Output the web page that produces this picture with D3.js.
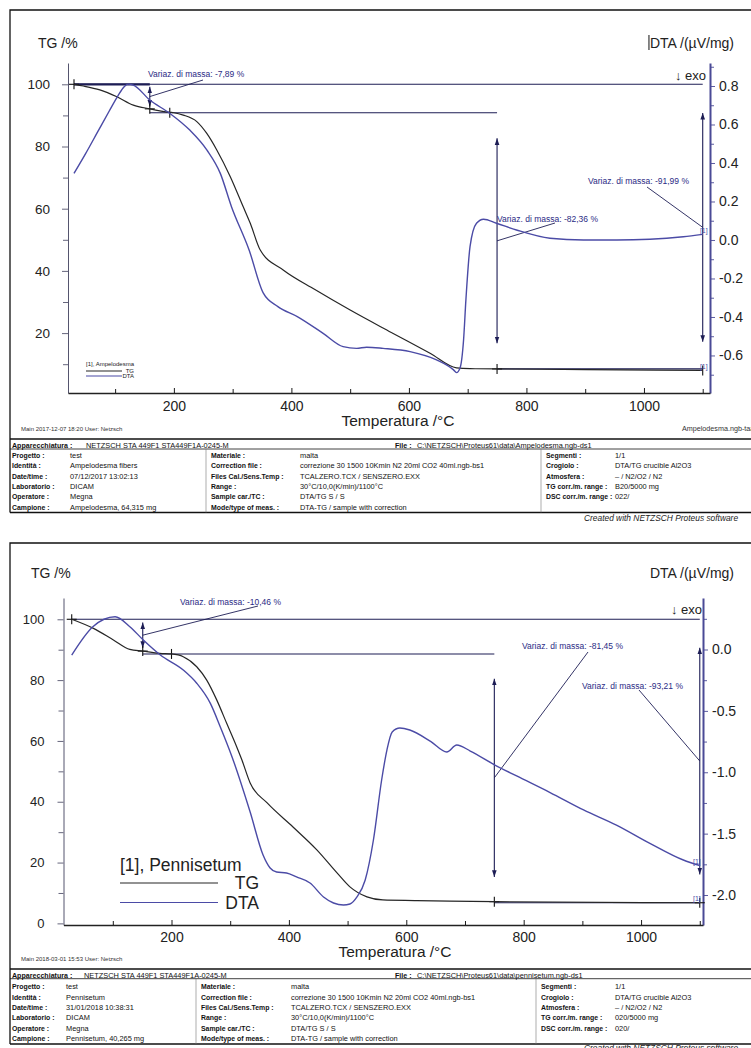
<!DOCTYPE html>
<html>
<head>
<meta charset="utf-8">
<script src="https://cdn.jsdelivr.net/npm/d3@7"></script>
<style>
  body { margin: 0; background: #fff; }
  svg { display: block; }
  text { font-family: "Liberation Sans", Arial, sans-serif; }
</style>
</head>
<body>
<svg id="chart" width="751" height="1048"></svg>
<script>
// ---------- Ampelodesma fibers (upper report) ----------
const ampTgTemp = [30, 46, 74, 103, 131, 159, 193, 200, 216, 239, 256, 273, 296, 318, 330, 347, 386, 440, 500, 570, 636, 681, 704, 750, 900, 1100];
const ampTg     = [100, 99.45, 98.2, 96.0, 93.3, 92.11, 91.0, 90.85, 90.1, 88.0, 84.2, 78.9, 70.3, 60.6, 55.3, 46.7, 40.3, 34.0, 27.4, 20.2, 13.5, 8.8, 8.55, 8.49, 8.25, 8.01];
const ampDtaTemp = [30, 50, 70, 90, 105, 115, 122, 131, 159, 193, 227, 256, 279, 298, 328, 352, 377, 410, 454, 488, 511, 528, 556, 602, 647, 676, 681, 687, 693, 697, 704, 715, 727, 749, 783, 840, 897, 954, 1010, 1067, 1100];
const ampDta     = [0.346, 0.45, 0.56, 0.67, 0.75, 0.795, 0.81, 0.805, 0.727, 0.658, 0.571, 0.468, 0.346, 0.173, -0.052, -0.275, -0.346, -0.398, -0.485, -0.554, -0.563, -0.557, -0.563, -0.580, -0.623, -0.675, -0.689, -0.665, -0.52, -0.31, -0.035, 0.087, 0.108, 0.087, 0.052, 0.009, 0.0, 0.0, 0.004, 0.017, 0.029];
// mass-change steps: temperature of the arrow, level before, level after
const ampStepTemp = [159, 750, 1100];
const ampStepFrom = [100, 90.85, 100];
const ampStepTo   = [92.11, 8.49, 8.01];
const ampStepText = ["Variaz. di massa: -7,89 %", "Variaz. di massa: -82,36 %", "Variaz. di massa: -91,99 %"];
// horizontal reference levels: [start T, end T, TG level]
const ampLevels = [[30, 1100, 100], [30, 159, 100], [159, 750, 90.85], [750, 1100, 8.49]];
// evaluation points: [T, TG level, kind]
const ampMarks = [[30, 100, "+"], [159, 92.11, "+"], [193, 90.85, "|"], [750, 8.49, "+"], [1100, 8.01, "|"]];
const ampInfo = [
  ["Progetto :", "test", "Materiale :", "malta", "Segmenti :", "1/1"],
  ["Identità :", "Ampelodesma fibers", "Correction file :", "correzione 30 1500 10Kmin N2 20ml CO2 40ml.ngb-bs1", "Crogiolo :", "DTA/TG crucible Al2O3"],
  ["Date/time :", "07/12/2017 13:02:13", "Files Cal./Sens.Temp :", "TCALZERO.TCX / SENSZERO.EXX", "Atmosfera :", "– / N2/O2 / N2"],
  ["Laboratorio :", "DICAM", "Range :", "30°C/10,0(K/min)/1100°C", "TG corr./m. range :", "B20/5000 mg"],
  ["Operatore :", "Megna", "Sample car./TC :", "DTA/TG S / S", "DSC corr./m. range :", "022/"],
  ["Campione :", "Ampelodesma, 64,315 mg", "Mode/type of meas. :", "DTA-TG / sample with correction", "", ""]
];

// ---------- Pennisetum (lower report) ----------
const penTgTemp = [30, 67, 101, 129, 151, 180, 200, 220, 243, 260, 277, 294, 311, 320, 334, 363, 407, 448, 482, 504, 533, 560, 618, 674, 750, 1100];
const penTg     = [100, 97.0, 93.2, 90.1, 89.54, 88.8, 88.6, 87.7, 84.4, 80.0, 73.5, 65.8, 58.1, 53.7, 46.2, 39.6, 31.7, 24.1, 16.6, 12.0, 8.7, 7.7, 7.5, 7.3, 7.15, 6.79];
const penDtaTemp = [30, 66, 104, 129, 152, 181, 220, 243, 266, 283, 303, 334, 356, 368, 379, 396, 413, 436, 459, 476, 493, 504, 516, 530, 544, 558, 567, 576, 589, 606, 642, 669, 686, 709, 751, 788, 845, 902, 958, 1015, 1072, 1100];
const penDta     = [-0.045, 0.186, 0.267, 0.186, 0.077, -0.045, -0.167, -0.275, -0.437, -0.629, -0.873, -1.324, -1.674, -1.78, -1.813, -1.821, -1.853, -1.902, -2.016, -2.065, -2.081, -2.073, -2.016, -1.878, -1.552, -1.063, -0.819, -0.672, -0.64, -0.656, -0.751, -0.835, -0.778, -0.827, -0.941, -1.03, -1.165, -1.307, -1.43, -1.579, -1.715, -1.76];
const penStepTemp = [151, 750, 1100];
const penStepFrom = [100, 88.6, 100];
const penStepTo   = [89.54, 7.15, 6.79];
const penStepText = ["Variaz. di massa: -10,46 %", "Variaz. di massa: -81,45 %", "Variaz. di massa: -93,21 %"];
const penLevels = [[30, 1100, 100], [151, 750, 88.6], [750, 1100, 6.79]];
const penMarks = [[30, 100, "+"], [151, 89.54, "+"], [200, 88.6, "|"], [750, 7.15, "+"], [1100, 6.79, "+"]];
const penInfo = [
  ["Progetto :", "test", "Materiale :", "malta", "Segmenti :", "1/1"],
  ["Identità :", "Pennisetum", "Correction file :", "correzione 30 1500 10Kmin N2 20ml CO2 40ml.ngb-bs1", "Crogiolo :", "DTA/TG crucible Al2O3"],
  ["Date/time :", "31/01/2018 10:38:31", "Files Cal./Sens.Temp :", "TCALZERO.TCX / SENSZERO.EXX", "Atmosfera :", "– / N2/O2 / N2"],
  ["Laboratorio :", "DICAM", "Range :", "30°C/10,0(K/min)/1100°C", "TG corr./m. range :", "020/5000 mg"],
  ["Operatore :", "Megna", "Sample car./TC :", "DTA/TG S / S", "DSC corr./m. range :", "020/"],
  ["Campione :", "Pennisetum, 40,265 mg", "Mode/type of meas. :", "DTA-TG / sample with correction", "", ""]
];

// ---------- shared tick values ----------
const tempMajor = [200, 400, 600, 800, 1000];
const tempMinor = [100, 300, 500, 700, 900, 1100];
const ampTgMajor = [20, 40, 60, 80, 100];
const penTgMajor = [0, 20, 40, 60, 80, 100];
const tgMinor = [10, 30, 50, 70, 90];
const ampDtaMajor = [-0.6, -0.4, -0.2, 0.0, 0.2, 0.4, 0.6, 0.8];
const ampDtaMinor = [-0.7, -0.5, -0.3, -0.1, 0.1, 0.3, 0.5, 0.7, 0.9];
const penDtaMajor = [-2.0, -1.5, -1.0, -0.5, 0.0];
const penDtaMinor = [-1.75, -1.25, -0.75, -0.25, 0.25];

const TG_COLOR = "#262626";
const DTA_COLOR = "#4b4ba6";
const NOTE_COLOR = "#1d1d55";
const NOTE_TEXT = "#2b2b85";

const svg = d3.select("#chart");
const defs = svg.append("defs");
defs.append("marker")
  .attr("id", "head").attr("viewBox", "0 0 10 10")
  .attr("refX", 10).attr("refY", 5)
  .attr("markerWidth", 6).attr("markerHeight", 7)
  .attr("orient", "auto-start-reverse")
  .append("path").attr("d", "M0,1.5L10,5L0,8.5z").attr("fill", NOTE_COLOR);

function drawPanel(p) {
  const g = svg.append("g");
  const x = d3.scaleLinear().domain(p.tempDomain).range([p.left, p.right]);
  const yTg = d3.scaleLinear().domain(p.tgDomain).range([p.bottom, p.top]);
  const yDta = d3.scaleLinear().domain(p.dtaDomain).range([p.bottom, p.top]);

  // report frame and information table
  const fr = g.append("g").attr("fill", "none").attr("stroke", "#111");
  fr.append("path").attr("d", `M${p.frameLeft},${p.tableBottom}V${p.frameTop}H760`).attr("stroke-width", 1.3);
  fr.append("line").attr("x1", p.frameLeft).attr("x2", 760).attr("y1", p.tableTop).attr("y2", p.tableTop).attr("stroke-width", 1.6);
  fr.append("line").attr("x1", p.frameLeft).attr("x2", 760).attr("y1", p.tableHead).attr("y2", p.tableHead).attr("stroke-width", 0.8);
  fr.append("line").attr("x1", p.frameLeft).attr("x2", 760).attr("y1", p.tableBottom).attr("y2", p.tableBottom).attr("stroke-width", 1.6);
  p.colSep.forEach(cx => fr.append("line").attr("x1", cx).attr("x2", cx).attr("y1", p.tableHead).attr("y2", p.tableBottom).attr("stroke-width", 0.6).attr("stroke", "#777"));

  const head = g.append("g").attr("font-size", 7.4).attr("fill", "#111");
  head.append("text").attr("x", p.frameLeft + 2).attr("y", p.tableTop + 8.5).attr("font-weight", "bold").attr("font-size", 7.1).text("Apparecchiatura :");
  head.append("text").attr("x", p.headValX).attr("y", p.tableTop + 8.5).text("NETZSCH STA 449F1 STA449F1A-0245-M");
  head.append("text").attr("x", 395).attr("y", p.tableTop + 8.5).attr("font-weight", "bold").attr("font-size", 7.1).text("File :");
  head.append("text").attr("x", 417).attr("y", p.tableTop + 8.5).text(p.fileName);
  p.info.forEach((row, i) => {
    const yy = p.rowFirst + i * p.rowStep;
    [0, 1, 2, 3, 4, 5].forEach(c => {
      if (!row[c]) return;
      const t = head.append("text").attr("x", p.colX[c]).attr("y", yy).text(row[c]);
      if (c % 2 === 0) t.attr("font-weight", "bold").attr("font-size", 6.9);
    });
  });
  g.append("text").attr("x", 584).attr("y", p.createdY).attr("font-size", 8.4)
    .attr("font-style", "italic").attr("fill", "#222").text("Created with NETZSCH Proteus software");
  g.append("text").attr("x", 21).attr("y", p.mainY).attr("font-size", 6).attr("fill", "#333").text(p.mainText);
  if (p.sideText) g.append("text").attr("x", 682).attr("y", p.mainY).attr("font-size", 7.2).attr("fill", "#333").text(p.sideText);

  // axes
  const axL = g.append("g").attr("transform", `translate(${p.left},0)`)
    .call(d3.axisLeft(yTg).tickValues(p.tgMajor).tickSize(6).tickSizeOuter(0).tickPadding(p.leftPad).tickFormat(d3.format("d")));
  g.append("g").attr("transform", `translate(${p.left},0)`)
    .call(d3.axisLeft(yTg).tickValues(tgMinor).tickSize(5).tickSizeOuter(0).tickFormat(""))
    .call(a => a.select(".domain").remove());
  axL.selectAll("text").attr("font-size", p.leftFont).attr("fill", "#222").attr("font-family", "'Liberation Sans', Arial, sans-serif");
  g.selectAll(".tick line").attr("stroke", "#55556e");
  axL.select(".domain").attr("stroke", "#55556e");

  const axR = g.append("g").attr("transform", `translate(${p.right},0)`)
    .call(d3.axisRight(yDta).tickValues(p.dtaMajor).tickSize(5).tickSizeOuter(0).tickPadding(4).tickFormat(d => d.toFixed(1)));
  const axRm = g.append("g").attr("transform", `translate(${p.right},0)`)
    .call(d3.axisRight(yDta).tickValues(p.dtaMinor).tickSize(4).tickSizeOuter(0).tickFormat(""));
  axRm.select(".domain").remove();
  axR.select(".domain").attr("stroke", "#4a4a96").attr("stroke-width", 2);
  axR.selectAll(".tick line").attr("stroke", "#4a4a96");
  axRm.selectAll(".tick line").attr("stroke", "#4a4a96");
  axR.selectAll("text").attr("font-size", 14).attr("fill", "#222").attr("font-family", "'Liberation Serif', 'Times New Roman', serif");

  const axB = g.append("g").attr("transform", `translate(0,${p.bottom})`)
    .call(d3.axisBottom(x).tickValues(tempMajor).tickSize(-5).tickSizeOuter(0).tickPadding(p.bottomPad).tickFormat(d3.format("d")));
  const axBm = g.append("g").attr("transform", `translate(0,${p.bottom})`)
    .call(d3.axisBottom(x).tickValues(tempMinor).tickSize(-4).tickSizeOuter(0).tickFormat(""));
  axBm.select(".domain").remove();
  axB.select(".domain").attr("stroke", "#222").attr("stroke-width", 1.6);
  axB.selectAll("text").attr("font-size", 14).attr("fill", "#222").attr("font-family", "'Liberation Sans', Arial, sans-serif");
  g.selectAll(".tick line").attr("stroke-width", 0.9);

  // axis titles
  g.append("text").attr("x", p.tgTitleX).attr("y", p.titleY).attr("font-size", 14).attr("fill", "#222").text("TG /%");
  const dtaTitle = g.append("text").attr("x", 734).attr("y", p.titleY).attr("font-size", 14).attr("text-anchor", "end").attr("fill", "#222").text("DTA /(µV/mg)");
  if (p.cursorMark) {
    const bb = dtaTitle.node().getBBox();
    g.append("line").attr("x1", bb.x - 1).attr("x2", bb.x - 1).attr("y1", p.titleY - 13).attr("y2", p.titleY + 2)
      .attr("stroke", "#111").attr("stroke-width", 1);
  }
  g.append("text").attr("x", p.exoX).attr("y", p.exoY).attr("font-size", 13).attr("text-anchor", "end").attr("fill", "#222").text("↓ exo");
  g.append("text").attr("x", p.xTitleX).attr("y", p.xTitleY).attr("font-size", 15.5).attr("text-anchor", "middle").attr("fill", "#222").text("Temperatura /°C");

  // reference levels, arrows and evaluation marks
  const notes = g.append("g").attr("stroke", NOTE_COLOR).attr("fill", "none");
  p.levels.forEach((lv, i) => {
    notes.append("line").attr("x1", x(lv[0])).attr("x2", x(lv[1]))
      .attr("y1", yTg(lv[2])).attr("y2", yTg(lv[2]))
      .attr("stroke-width", (p.boldFirstStep && i === 1) ? 2.2 : 1.1);
  });

  // TG and DTA curves
  const lineTg = d3.line().x(d => x(d[0])).y(d => yTg(d[1])).curve(d3.curveMonotoneX);
  const lineDta = d3.line().x(d => x(d[0])).y(d => yDta(d[1])).curve(d3.curveMonotoneX);
  g.append("path").datum(d3.zip(p.tgTemp, p.tg)).attr("d", lineTg)
    .attr("fill", "none").attr("stroke", TG_COLOR).attr("stroke-width", 1.2);
  g.append("path").datum(d3.zip(p.dtaTemp, p.dta)).attr("d", lineDta)
    .attr("fill", "none").attr("stroke", DTA_COLOR).attr("stroke-width", 1.4);

  p.stepTemp.forEach((t, i) => {
    const ax = x(t);
    const y0 = yTg(p.stepFrom[i]), y1 = yTg(p.stepTo[i]);
    const mid = (y0 + y1) / 2, half = 0.4 * Math.abs(y1 - y0);
    notes.append("line").attr("x1", ax).attr("x2", ax).attr("y1", mid - half).attr("y2", mid + half)
      .attr("stroke-width", 1.1).attr("marker-start", "url(#head)").attr("marker-end", "url(#head)");
    const lab = p.stepLabels[i];
    notes.append("line").attr("x1", lab.lx).attr("y1", lab.ly).attr("x2", ax).attr("y2", mid).attr("stroke-width", 0.9);
    g.append("text").attr("x", lab.tx).attr("y", lab.ty).attr("font-size", 8.5).attr("fill", NOTE_TEXT).text(p.stepText[i]);
  });

  p.marks.forEach(m => {
    const mx = x(m[0]), my = yTg(m[1]);
    notes.append("line").attr("x1", mx).attr("x2", mx).attr("y1", my - 5).attr("y2", my + 5).attr("stroke", "#111").attr("stroke-width", 1.1);
    if (m[2] === "+") notes.append("line").attr("x1", mx - 5).attr("x2", mx + 5).attr("y1", my).attr("y2", my).attr("stroke", "#111").attr("stroke-width", 1.1);
  });

  // curve end tags
  const lastT = p.tgTemp[p.tgTemp.length - 1];
  g.append("text").attr("x", x(lastT) + p.tagDx).attr("y", yTg(p.tg[p.tg.length - 1]) - 1.5)
    .attr("font-size", 7).attr("text-anchor", "end").attr("fill", DTA_COLOR).text("[1]");
  g.append("text").attr("x", x(lastT) + p.tagDx).attr("y", yDta(p.dta[p.dta.length - 1]) - 1.5)
    .attr("font-size", 7).attr("text-anchor", "end").attr("fill", DTA_COLOR).text("[1]");

  // legend
  const lg = p.legend;
  const leg = g.append("g").attr("fill", "#222").attr("font-size", lg.size);
  leg.append("text").attr("x", lg.x).attr("y", lg.y).text(p.sampleName);
  leg.append("line").attr("x1", lg.x).attr("x2", lg.lineEnd).attr("y1", lg.tgY).attr("y2", lg.tgY)
    .attr("stroke", TG_COLOR).attr("stroke-width", 1.2);
  leg.append("line").attr("x1", lg.x).attr("x2", lg.lineEnd).attr("y1", lg.dtaY).attr("y2", lg.dtaY)
    .attr("stroke", DTA_COLOR).attr("stroke-width", 1.2);
  leg.append("text").attr("x", lg.textEnd).attr("y", lg.tgY + lg.size * 0.35).attr("text-anchor", "end").text("TG");
  leg.append("text").attr("x", lg.textEnd).attr("y", lg.dtaY + lg.size * 0.35).attr("text-anchor", "end").text("DTA");
}

drawPanel({
  frameLeft: 10, frameTop: 10, tableTop: 439, tableHead: 449, tableBottom: 512.5,
  colSep: [206, 541], colX: [12, 70, 211, 300, 546, 615], headValX: 86,
  rowFirst: 457.7, rowStep: 10.4, createdY: 521, mainY: 431, fileName: "C:\\NETZSCH\\Proteus61\\data\\Ampelodesma.ngb-ds1",
  mainText: "Main   2017-12-07 18:20   User: Netzsch", sideText: "Ampelodesma.ngb-taa",
  info: ampInfo,
  left: 68, right: 710, top: 63, bottom: 393,
  tempDomain: [19.8, 1112.4], tgDomain: [0.74, 106.85], dtaDomain: [-0.795, 0.9195],
  tgMajor: ampTgMajor, dtaMajor: ampDtaMajor, dtaMinor: ampDtaMinor,
  leftPad: 12, leftFont: 13.5, bottomPad: 8,
  tgTitleX: 38, titleY: 48, exoX: 706, exoY: 80, xTitleX: 398, xTitleY: 426, cursorMark: true,
  tgTemp: ampTgTemp, tg: ampTg, dtaTemp: ampDtaTemp, dta: ampDta,
  stepTemp: ampStepTemp, stepFrom: ampStepFrom, stepTo: ampStepTo, stepText: ampStepText,
  stepLabels: [{tx: 148, ty: 77, lx: 203, ly: 80}, {tx: 497, ty: 222, lx: 555, ly: 223}, {tx: 588, ty: 184, lx: 647, ly: 187}],
  levels: ampLevels, boldFirstStep: true, marks: ampMarks, tagDx: 5,
  sampleName: "[1], Ampelodesma",
  legend: {x: 86, y: 366, size: 6, tgY: 371, dtaY: 376, lineEnd: 122, textEnd: 134}
});

drawPanel({
  frameLeft: 10, frameTop: 543, tableTop: 969, tableHead: 978.7, tableBottom: 1044,
  colSep: [196, 536], colX: [12, 66, 201, 291, 541, 615], headValX: 84,
  rowFirst: 989.3, rowStep: 10.35, createdY: 1051, mainY: 961, fileName: "C:\\NETZSCH\\Proteus61\\data\\pennisetum.ngb-ds1",
  mainText: "Main   2018-03-01 15:53   User: Netzsch", sideText: null,
  info: penInfo,
  left: 63.5, right: 703, top: 598, bottom: 925,
  tempDomain: [16.0, 1105.5], tgDomain: [-0.53, 107.0], dtaDomain: [-2.2444, 0.4196],
  tgMajor: penTgMajor, dtaMajor: penDtaMajor, dtaMinor: penDtaMinor,
  leftPad: 13, leftFont: 13, bottomPad: 7,
  tgTitleX: 31, titleY: 578, exoX: 702, exoY: 614, xTitleX: 395, xTitleY: 957, cursorMark: false,
  tgTemp: penTgTemp, tg: penTg, dtaTemp: penDtaTemp, dta: penDta,
  stepTemp: penStepTemp, stepFrom: penStepFrom, stepTo: penStepTo, stepText: penStepText,
  stepLabels: [{tx: 180, ty: 604.5, lx: 258, ly: 606}, {tx: 522, ty: 648.5, lx: 588, ly: 652}, {tx: 582, ty: 689, lx: 639, ly: 690}],
  levels: penLevels, boldFirstStep: false, marks: penMarks, tagDx: 1,
  sampleName: "[1], Pennisetum",
  legend: {x: 120, y: 871, size: 17.5, tgY: 883, dtaY: 902.5, lineEnd: 218, textEnd: 259}
});
</script>
</body>
</html>
